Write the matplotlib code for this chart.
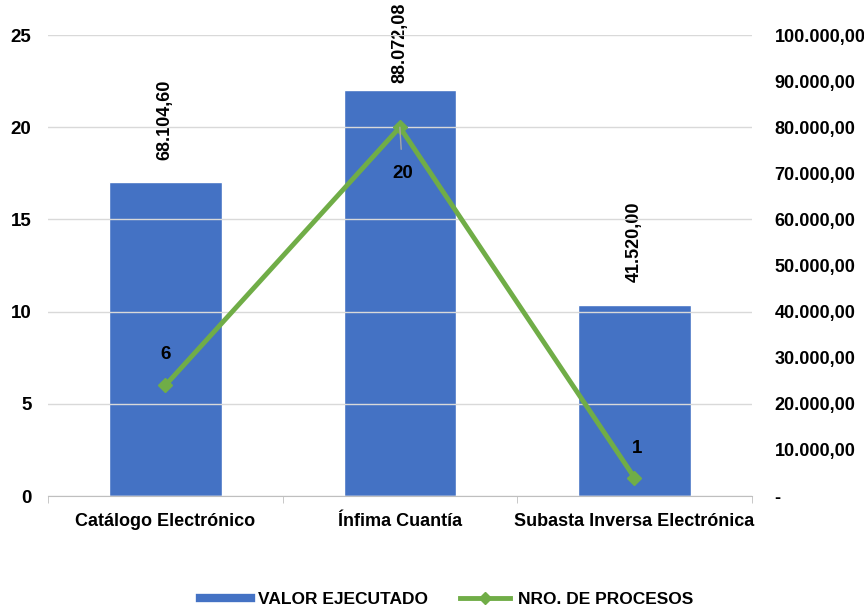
import matplotlib
matplotlib.use("Agg")
import matplotlib.pyplot as plt
from matplotlib.lines import Line2D
from matplotlib.ticker import FuncFormatter

categories = ["Catálogo Electrónico", "Ínfima Cuantía", "Subasta Inversa Electrónica"]
valor_ejecutado = [68104.60, 88072.08, 41520.00]
nro_procesos = [6, 20, 1]
bar_labels = ["68.104,60", "88.072,08", "41.520,00"]
left_ticks = [0, 5, 10, 15, 20, 25]
right_ticks = [0, 10000, 20000, 30000, 40000, 50000, 60000, 70000, 80000, 90000, 100000]

plt.rcParams['font.family'] = ['Liberation Sans Narrow', 'Liberation Sans', 'DejaVu Sans']
plt.rcParams['font.weight'] = 'bold'

BLUE = "#4472C4"
GREEN = "#70AD47"

fig = plt.figure(figsize=(8.64, 6.12), dpi=100)
ax = fig.add_axes([0.0556, 0.1895, 0.8144, 0.7533])
ax2 = ax.twinx()

x = list(range(len(categories)))

# bars on right axis
ax2.bar(x, valor_ejecutado, width=0.48, color=BLUE, edgecolor="white", linewidth=1.0, zorder=2)
ax2.set_ylim(0, 100000)
ax2.set_yticks(right_ticks)
def fmt(v, pos):
    if v == 0:
        return "-"
    s = f"{v:,.2f}"
    return s.replace(",", "X").replace(".", ",").replace("X", ".")
ax2.yaxis.set_major_formatter(FuncFormatter(fmt))

bar_offsets = [16, 5, 16]
for xi, v, lab, off in zip(x, valor_ejecutado, bar_labels, bar_offsets):
    ax2.annotate(lab, (xi, v), xytext=(0, off), textcoords="offset points",
                 rotation=90, ha="center", va="bottom", fontsize=13, fontweight="bold")

# gridlines on left axis
ax.set_ylim(0, 25)
ax.set_yticks(left_ticks)
ax.set_xlim(-0.5, 2.5)
ax.grid(axis="y", color="#D9D9D9", linewidth=1.0, zorder=0)
ax.set_axisbelow(True)

ax.set_zorder(ax2.get_zorder() + 1)
ax.patch.set_visible(False)
ax.plot(x, nro_procesos, color=GREEN, linewidth=3.5, marker="D", markersize=7,
        markerfacecolor=GREEN, markeredgecolor=GREEN, zorder=3)

offsets = [(0, 22), (2, -33), (2, 21)]
for xi, v, (dx, dy) in zip(x, nro_procesos, offsets):
    if dy < 0:
        ax.annotate(str(v), (xi, v), xytext=(dx, dy), textcoords="offset points",
                    ha="center", va="center", fontsize=13.5, fontweight="bold",
                    arrowprops=dict(arrowstyle="-", color="#A6A6A6", lw=1, shrinkA=9, shrinkB=0))
    else:
        ax.annotate(str(v), (xi, v), xytext=(dx, dy), textcoords="offset points",
                    ha="center", va="center", fontsize=13.5, fontweight="bold")

ax.set_xticks(x)
ax.set_xticklabels(categories, fontsize=13, fontweight="bold")
ax.set_xticks([-0.5, 0.5, 1.5, 2.5], minor=True)
ax.tick_params(axis="x", which="major", length=0, pad=12)
ax.tick_params(axis="x", which="minor", length=5, color="#BFBFBF")
ax.tick_params(axis="y", length=0, labelsize=13.5, pad=12)
ax2.tick_params(axis="y", length=0, labelsize=13, pad=16.5)

for a in (ax, ax2):
    for s in ("top", "left", "right"):
        a.spines[s].set_visible(False)
    a.spines["bottom"].set_color("#BFBFBF")
ax2.spines["bottom"].set_visible(False)

handles = [Line2D([0], [0], color=BLUE, linewidth=6),
           Line2D([0], [0], color=GREEN, linewidth=3.5, marker="D", markersize=6)]
fig.legend(handles, ["VALOR EJECUTADO", "NRO. DE PROCESOS"], loc="lower center",
           bbox_to_anchor=(0.517, -0.017), ncol=2, frameon=False, fontsize=12.5,
           handlelength=2.9, columnspacing=1.8, handletextpad=0.45)

fig.savefig("out.png", dpi=100)
